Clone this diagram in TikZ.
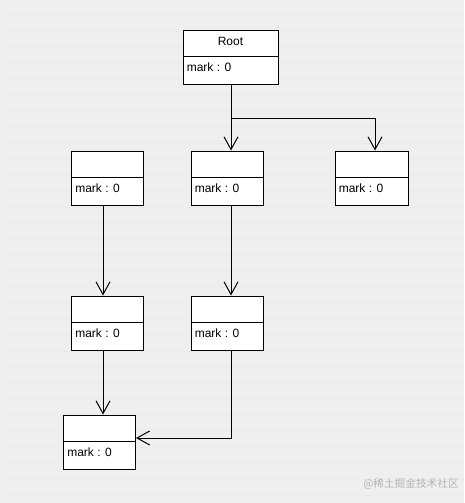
\documentclass[tikz,border=0pt]{standalone}
\usepackage{fontspec}
\setmainfont{Liberation Sans}
\newfontfamily\cjk{Noto Sans CJK SC}
\usetikzlibrary{arrows.meta,calc}
\definecolor{bgc}{HTML}{EFEFEF}
\definecolor{gridc}{HTML}{E6E6E6}
\definecolor{wmc}{HTML}{B4B4B4}
\tikzset{
  cls/.style={draw=black, fill=white, line width=0.75pt, minimum width=54pt, minimum height=40.5pt, inner sep=0pt,
    path picture={\draw[line width=0.75pt] ([yshift=-19.5pt]path picture bounding box.north west) -- ([yshift=-19.5pt]path picture bounding box.north east);}},
  title/.style={font=\fontsize{9}{10}\selectfont, inner sep=0pt, anchor=center},
  attr/.style={font=\fontsize{9}{10}\selectfont, inner sep=0pt, anchor=west},
  arr/.style={draw=black, line width=0.75pt, -{Straight Barb[length=9.5pt,width=10.5pt,line width=0.75pt]}},
}
\begin{document}
\begin{tikzpicture}[x=0.75pt,y=-0.75pt]
\path[fill=bgc] (0,0) rectangle (464,503);
\useasboundingbox (0,0) rectangle (464,503);
\foreach \yy in {16,32,...,496} {
  \draw[gridc, line width=1.1pt, dash pattern=on 6pt off 6pt] (12,\yy-0.3) -- (464,\yy-0.3);
}
% classes
\node[cls, minimum width=71.25pt] (R) at (230.5,58) {};
\node[title] (Rt) at (230.5,41) {Root};
\node[attr] (Ra) at (186.5,67) {mark : 0};

\node[cls] (A) at (107.5,178) {};
\node[attr] (Aa) at (75,188) {mark : 0};
\node[cls] (B) at (227,178) {};
\node[attr] (Ba) at (194.5,188) {mark : 0};
\node[cls, minimum width=54.75pt] (C) at (371.5,178) {};
\node[attr] (Ca) at (338.5,188) {mark : 0};

\node[cls] (A2) at (107.5,323) {};
\node[attr] (A2a) at (75,333) {mark : 0};
\node[cls] (B2) at (227,323) {};
\node[attr] (B2a) at (194.5,333) {mark : 0};

\node[cls] (D) at (99.5,442) {};
\node[attr] (Da) at (67,452) {mark : 0};

% connectors
\draw[arr] ([xshift=0.375pt]R.south) -- ([xshift=3pt]B.north);
\coordinate (j) at (231,118);
\draw[arr] (j) -| ([xshift=2.625pt]C.north);
\draw[arr] ([xshift=-3.375pt]A.south) -- ([xshift=-3.375pt]A2.north);
\draw[arr] ([xshift=-3.375pt]A2.south) -- ([xshift=2.625pt]D.north);
\draw[arr] ([xshift=3pt]B.south) -- ([xshift=3pt]B2.north);
\draw[arr] ([xshift=3pt]B2.south) |- ([yshift=3pt]D.east);

% watermark
\node[font=\cjk\fontsize{8}{9}\selectfont, text=wmc, inner sep=0pt, anchor=west] (wm) at (363,484) {@稀土掘金技术社区};
\end{tikzpicture}
\end{document}
